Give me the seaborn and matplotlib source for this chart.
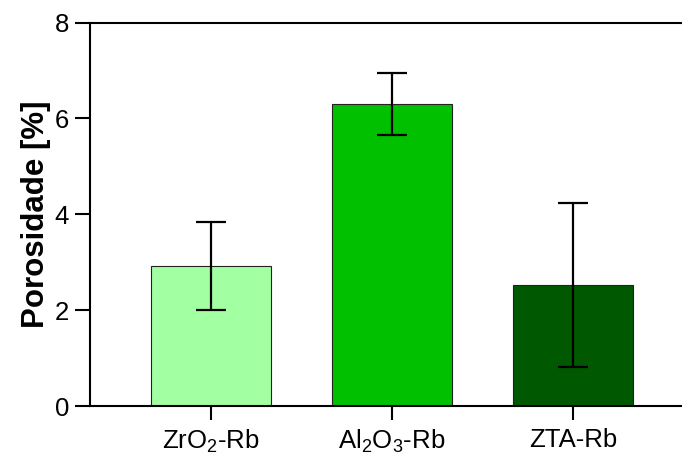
import matplotlib
matplotlib.use("Agg")
import matplotlib.pyplot as plt
import seaborn as sns
import pandas as pd

# Porosity per sample (mean and error bar half-width)
samples = ['ZrO$_2$-Rb', 'Al$_2$O$_3$-Rb', 'ZTA-Rb']
porosity = [2.92, 6.30, 2.52]
porosity_err = [0.92, 0.65, 1.71]
bar_colors = ['#A2FFA2', '#00C000', '#005800']

df = pd.DataFrame({'sample': samples, 'porosity': porosity})

sns.set_style('ticks')
plt.rcParams['font.family'] = ['Liberation Sans', 'DejaVu Sans']
plt.rcParams['mathtext.fontset'] = 'custom'
plt.rcParams['mathtext.rm'] = 'Liberation Sans'
plt.rcParams['mathtext.default'] = 'regular'
plt.rcParams['text.color'] = 'black'
plt.rcParams['axes.labelcolor'] = 'black'
plt.rcParams['xtick.color'] = 'black'
plt.rcParams['ytick.color'] = 'black'

fig = plt.figure(figsize=(6.82, 4.57), dpi=100)
ax = fig.add_axes([90 / 682, 51 / 457, 604 / 682, 383.5 / 457])

sns.barplot(data=df, x='sample', y='porosity', hue='sample', palette=bar_colors,
            saturation=1, width=0.665, edgecolor='#222222', linewidth=0.8,
            legend=False, ax=ax)
ax.errorbar(x=range(len(samples)), y=porosity, yerr=porosity_err, fmt='none',
            ecolor='black', elinewidth=1.6, capsize=10.8, capthick=1.6)

ax.set_ylim(0, 8)
ax.set_xlim(-0.668, 2.668)
ax.set_yticks([0, 2, 4, 6, 8])
ax.set_xlabel('')
ax.set_ylabel('Porosidade [%]', fontsize=22.5, fontweight='bold', labelpad=3)
ax.tick_params(axis='both', labelsize=18.5, width=1.5)
ax.tick_params(axis='y', length=11, pad=4)
ax.tick_params(axis='x', length=10, pad=6)
for side in ['left', 'bottom', 'top']:
    ax.spines[side].set_linewidth(1.5)
    ax.spines[side].set_color('black')
ax.spines['right'].set_visible(False)

fig.savefig('out.png', dpi=100)
